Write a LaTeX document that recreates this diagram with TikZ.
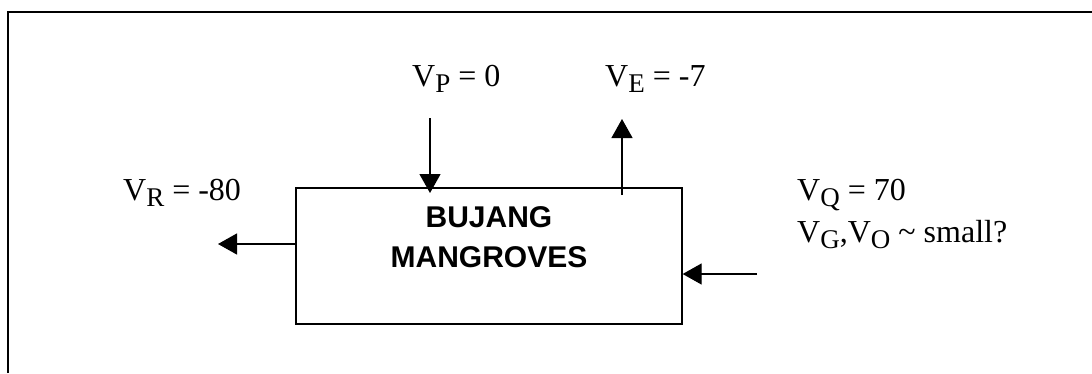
\documentclass[tikz,border=0pt]{standalone}
\usepackage{fontspec}
\setmainfont{Liberation Serif}
\newfontfamily\boxfont{Liberation Sans}
\usetikzlibrary{arrows.meta}
\newcommand\sbs[1]{\raisebox{-6pt}{\fontsize{27}{27}\selectfont #1}}
\begin{document}
\begin{tikzpicture}[x=1pt,y=-1pt,
  lbl/.style={anchor=base west,inner sep=0pt,font=\fontsize{32}{42}\selectfont},
  arr/.style={line width=1.3pt,-{Triangle[length=19pt,width=21pt]}},
  frame/.style={line width=1.4pt}]
\useasboundingbox (0,0) rectangle (1092,373);
% outer frame (continues beyond the picture's right and bottom edges)
\coordinate (ftl) at (8,12);
\coordinate (ftr) at (1092,12);
\coordinate (fbl) at (8,373);
\draw[frame] (fbl) -- (ftl) -- (ftr);
% box
\node[draw,line width=1.3pt,minimum width=386pt,minimum height=136pt,inner sep=0pt] (box) at (489,256) {};
\node[align=center,inner sep=0pt,anchor=base,font=\boxfont\bfseries\fontsize{30}{40}\selectfont] (boxtext) at (489,267) {BUJANG\\MANGROVES};
% labels
\node[lbl] (vp) at (412,86) {V\sbs{P} = 0};
\node[lbl] (ve) at (605,86) {V\sbs{E} = -7};
\node[lbl] (vr) at (123,200) {V\sbs{R} = -80};
\node[lbl] (vq) at (797,200) {V\sbs{Q} = 70};
\node[lbl] (vg) at (797,242) {V\sbs{G},V\sbs{O} \textasciitilde{} small?};
% arrow end points
\coordinate (pstart) at (430,118);
\coordinate (pend) at (430,193);
\coordinate (estart) at (622,195);
\coordinate (eend) at (622,119);
\coordinate (rend) at (218,244);
\coordinate (qstart) at (757,274);
% arrows
\draw[arr] (pstart) -- (pend);
\draw[arr] (estart) -- (eend);
\draw[arr] (box.west |- rend) -- (rend);
\draw[arr] (qstart) -- (box.east |- qstart);
\end{tikzpicture}
\end{document}
